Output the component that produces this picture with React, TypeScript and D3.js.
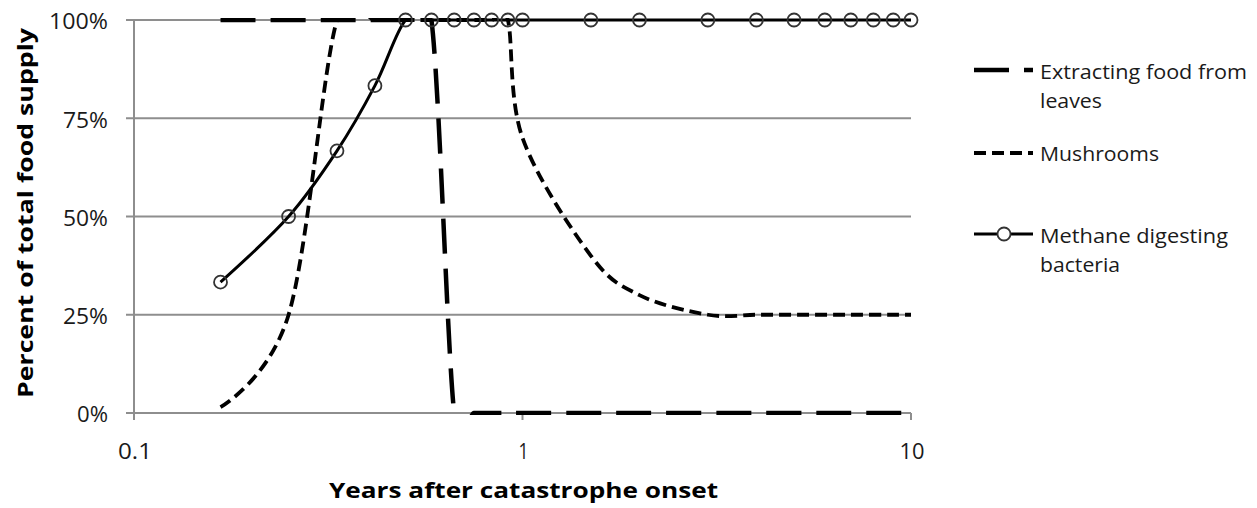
import React from "react";
import * as d3 from "d3";

// Years after onset (x), shared grid: months 2..12, then years
const years = [0.167, 0.25, 0.333, 0.417, 0.5, 0.583, 0.667, 0.75, 0.833, 0.917, 1, 1.5, 2, 3, 4, 5, 6, 7, 8, 9, 10];
const leavesShare = [1, 1, 1, 1, 1, 1, 0, 0, 0, 0, 0, 0, 0, 0, 0, 0, 0, 0, 0, 0, 0];
const mushroomShare = [0.015, 0.25, 1, 1, 1, 1, 1, 1, 1, 1, 0.7, 0.4, 0.3, 0.25, 0.25, 0.25, 0.25, 0.25, 0.25, 0.25, 0.25];
const methaneShare = [0.333, 0.5, 0.667, 0.833, 1, 1, 1, 1, 1, 1, 1, 1, 1, 1, 1, 1, 1, 1, 1, 1, 1];

const xTicks = [0.1, 1, 10];
const xTickLabels = ["0.1", "1", "10"];
const yTicks = [0, 0.25, 0.5, 0.75, 1];
const yTickLabels = ["0%", "25%", "50%", "75%", "100%"];

const seriesNames = ["Extracting food from|leaves", "Mushrooms", "Methane digesting|bacteria"];

const W = 1257;
const H = 508;
const FONT = "'Open Sans', sans-serif";

// measured text widths (px) for fitting
const yLabelW: Record<string, number> = { "0%": 31, "25%": 45, "50%": 45, "75%": 45, "100%": 59 };
const xLabelW: Record<string, number> = { "0.1": 34, "1": 10, "10": 25 };
const legendW: Record<string, number> = {
  "Extracting food from": 207,
  leaves: 62,
  Mushrooms: 119,
  "Methane digesting": 188,
  bacteria: 80,
};

export default function App() {
  const x = d3.scaleLog().domain([0.1, 10]).range([134, 911]);
  const y = d3.scaleLinear().domain([0, 1]).range([413, 20]);

  const line = d3
    .line<[number, number]>()
    .x((d) => x(d[0]))
    .y((d) => y(d[1]))
    .curve(d3.curveCatmullRom.alpha(0));

  const pts = (vals: number[]) => years.map((t, i) => [t, vals[i]] as [number, number]);

  const grid = "#8e8e8e";
  const leavesDash = "35 15";
  const mushDash = "12 6";

  const legendY = [70, 153, 234];
  const legendX0 = 974;
  const legendX1 = 1033;
  const legendBase = [79, 161, 243];

  return (
    <svg width={W} height={H} style={{ position: "absolute", left: 0, top: 0, background: "#fff" }}>
      <defs>
        <clipPath id="plot">
          <rect x={x(0.1)} y={y(1) - 2} width={x(10) - x(0.1) + 2} height={y(0) - y(1) + 4} />
        </clipPath>
      </defs>
      {/* gridlines */}
      {yTicks.map((t) => (
        <line key={"g" + t} x1={126} x2={911} y1={y(t)} y2={y(t)} stroke={grid} strokeWidth={2} />
      ))}
      {/* y axis */}
      <line x1={x(0.1)} x2={x(0.1)} y1={y(1)} y2={y(0) + 7} stroke={grid} strokeWidth={2} />
      {/* x ticks */}
      {xTicks.map((t) => (
        <line key={"xt" + t} x1={x(t)} x2={x(t)} y1={y(0)} y2={y(0) + 7} stroke={grid} strokeWidth={2} />
      ))}
      {/* tick labels */}
      {yTicks.map((t, i) => (
        <text
          key={"yl" + t}
          x={108}
          y={y(t) + 2}
          dy="0.35em"
          textAnchor="end"
          fontFamily={FONT}
          fontSize={21}
          fill="#1a1a1a"
          textLength={yLabelW[yTickLabels[i]]}
          lengthAdjust="spacingAndGlyphs"
        >
          {yTickLabels[i]}
        </text>
      ))}
      {xTicks.map((t, i) => (
        <text
          key={"xl" + t}
          x={x(t) + 1}
          y={459}
          textAnchor="middle"
          fontFamily={FONT}
          fontSize={22}
          fill="#1a1a1a"
          textLength={xLabelW[xTickLabels[i]]}
          lengthAdjust="spacingAndGlyphs"
        >
          {xTickLabels[i]}
        </text>
      ))}
      {/* axis titles */}
      <text
        x={523.5}
        y={498}
        textAnchor="middle"
        fontFamily={FONT}
        fontSize={22}
        fontWeight="bold"
        fill="#000"
        textLength={389}
        lengthAdjust="spacingAndGlyphs"
      >
        Years after catastrophe onset
      </text>
      <text
        transform={`translate(33,213) rotate(-90)`}
        textAnchor="middle"
        fontFamily={FONT}
        fontSize={22}
        fontWeight="bold"
        fill="#000"
        textLength={370}
        lengthAdjust="spacingAndGlyphs"
      >
        Percent of total food supply
      </text>

      {/* series */}
      <g clipPath="url(#plot)">
        <path d={line(pts(leavesShare)) || ""} fill="none" stroke="#000" strokeWidth={4.5} strokeDasharray={leavesDash} />
        <path d={line(pts(mushroomShare)) || ""} fill="none" stroke="#000" strokeWidth={3.8} strokeDasharray={mushDash} />
        <path d={line(pts(methaneShare)) || ""} fill="none" stroke="#000" strokeWidth={3} />
      </g>
      {years.map((t, i) => (
        <circle key={"m" + i} cx={x(t)} cy={y(methaneShare[i])} r={6.5} fill="none" stroke="#333" strokeWidth={1.8} />
      ))}

      {/* legend */}
      <line x1={legendX0} x2={legendX1} y1={legendY[0]} y2={legendY[0]} stroke="#000" strokeWidth={4.5} strokeDasharray={leavesDash} />
      <line x1={legendX0} x2={legendX1} y1={legendY[1]} y2={legendY[1]} stroke="#000" strokeWidth={3.8} strokeDasharray={mushDash} />
      <line x1={legendX0} x2={legendX1} y1={legendY[2]} y2={legendY[2]} stroke="#000" strokeWidth={3} />
      <circle cx={1004} cy={legendY[2]} r={6.5} fill="#fff" stroke="#333" strokeWidth={1.8} />
      {seriesNames.map((name, i) => {
        const parts = name.split("|");
        return parts.map((p, j) => (
          <text
            key={"lg" + i + j}
            x={1040}
            y={legendBase[i] + j * 29}
            fontFamily={FONT}
            fontSize={20}
            fill="#1a1a1a"
            textLength={legendW[p]}
            lengthAdjust="spacingAndGlyphs"
          >
            {p}
          </text>
        ));
      })}
    </svg>
  );
}
